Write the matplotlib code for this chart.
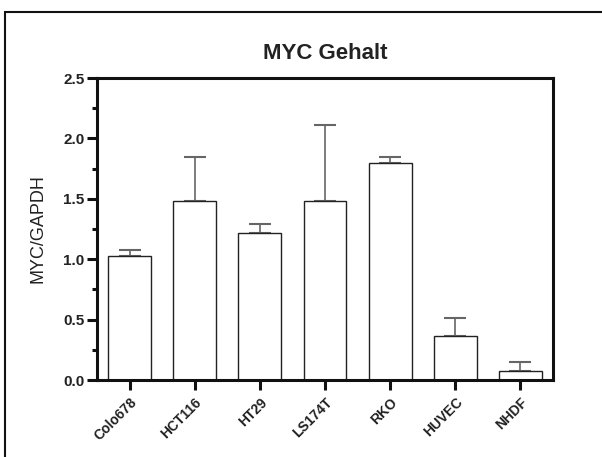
import numpy as np
import matplotlib
matplotlib.use('agg')
from matplotlib import pyplot as plt
from matplotlib.patches import Rectangle
from matplotlib.ticker import MultipleLocator

plt.rcParams['font.family'] = ['Liberation Sans', 'DejaVu Sans']

lines = ['Colo678', 'HCT116', 'HT29', 'LS174T', 'RKO', 'HUVEC', 'NHDF']
ratio = [1.03, 1.48, 1.22, 1.48, 1.80, 0.365, 0.072]
err = [0.045, 0.37, 0.07, 0.635, 0.045, 0.145, 0.078]

fig = plt.figure(figsize=(6.02, 4.57), dpi=100)
# outer frame around the whole graphic
fig.patches.append(Rectangle((5 / 602, -0.1), 1.2, 1 - 12 / 457 + 0.1,
                             transform=fig.transFigure, fill=False,
                             edgecolor='#111111', linewidth=1.5))

ax = fig.add_axes([97 / 602, 77 / 457, (553 - 97) / 602, (380 - 78) / 457])
x = np.arange(len(lines))
ax.bar(x, ratio, width=0.66, color='white', edgecolor='#222222', linewidth=1.0, zorder=2)
ax.errorbar(x, ratio, yerr=[np.zeros(len(err)), err], fmt='none',
            ecolor='#666666', elinewidth=1.2, capsize=8, capthick=1.5, zorder=1)

ax.set_xlim(-0.5, 6.5)
ax.set_ylim(0, 2.5)
ax.yaxis.set_major_locator(MultipleLocator(0.5))
ax.yaxis.set_minor_locator(MultipleLocator(0.25))
ax.yaxis.set_major_formatter(matplotlib.ticker.FormatStrFormatter('%.1f'))
ax.set_xticks(x)
ax.set_xticklabels(lines, rotation=45, ha='right', rotation_mode='anchor',
                   fontsize=10, fontweight='bold', color='#222222')
for lab in ax.get_yticklabels():
    lab.set_fontsize(11)
    lab.set_fontweight('bold')
    lab.set_color('#222222')

for s in ax.spines.values():
    s.set_linewidth(2.2)
    s.set_color('#111111')
ax.tick_params(axis='both', which='major', direction='out', length=7, width=2.2, color='#111111')
ax.tick_params(axis='y', which='minor', direction='out', length=3.5, width=2.2, color='#111111')
ax.tick_params(axis='y', pad=2)
ax.tick_params(axis='x', pad=4)

ax.set_ylabel('MYC/GAPDH', fontsize=13, color='#222222', labelpad=12)
ax.set_title('MYC Gehalt', fontsize=16, fontweight='bold', color='#222222', pad=14)

fig.savefig('out.png', dpi=100)
